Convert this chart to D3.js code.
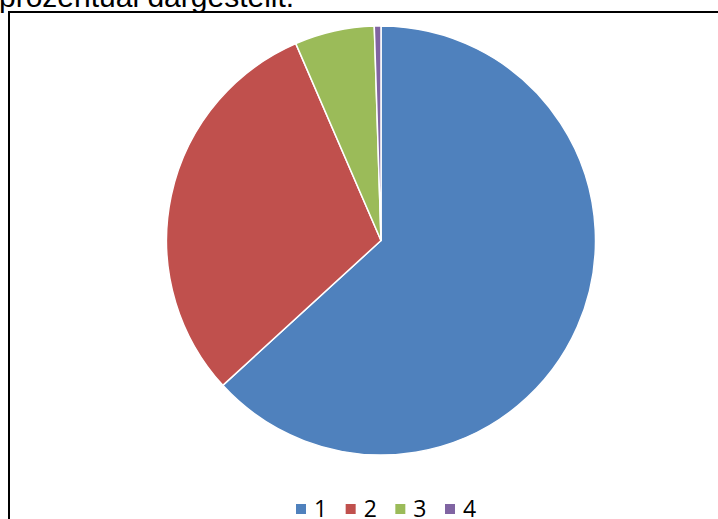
<!DOCTYPE html>
<html><head><meta charset="utf-8">
<script src="https://cdn.jsdelivr.net/npm/d3@7"></script>
<style>html,body{margin:0;padding:0;background:#fff;overflow:hidden}</style>
</head><body>
<svg id="c" width="718" height="519"></svg>
<script>
const categories = ["1", "2", "3", "4"];
const values = [63.2, 30.3, 6.0, 0.5];
const colors = ["#4F81BD", "#C0504D", "#9BBB59", "#8064A2"];

const svg = d3.select("#c");
svg.append("text").attr("x", -1).attr("y", 7)
  .attr("font-family", "Liberation Sans, Arial, sans-serif").attr("font-size", 30)
  .attr("fill", "#000").text("prozentual dargestellt.");
svg.append("rect").attr("x", 9).attr("y", 12).attr("width", 720).attr("height", 520)
  .attr("fill", "none").attr("stroke", "#000").attr("stroke-width", 2);

const cx = 381, cy = 240.5, r = 214.5;
const pie = d3.pie().sort(null).value(d => d.v);
const data = pie(categories.map((c, i) => ({c, v: values[i]})));
const arc = d3.arc().innerRadius(0).outerRadius(r);
const color = d3.scaleOrdinal().domain(categories).range(colors);
svg.append("g").attr("transform", `translate(${cx},${cy})`)
  .selectAll("path").data(data).join("path")
  .attr("d", arc).attr("fill", d => color(d.data.c))
  .attr("stroke", "#fff").attr("stroke-width", 1.5).attr("stroke-linejoin", "round");

const lx = d3.scalePoint().domain(categories).range([296, 445]);
const lg = svg.append("g");
const items = lg.selectAll("g").data(categories).join("g")
  .attr("transform", d => `translate(${lx(d)},0)`);
items.append("rect").attr("x", 0).attr("y", 504).attr("width", 10).attr("height", 10)
  .attr("fill", d => color(d));
items.append("text").attr("x", 18).attr("y", 517)
  .attr("font-family", "Open Sans, sans-serif").attr("font-size", 23)
  .attr("fill", "#000").text(d => d);
</script>
</body></html>
